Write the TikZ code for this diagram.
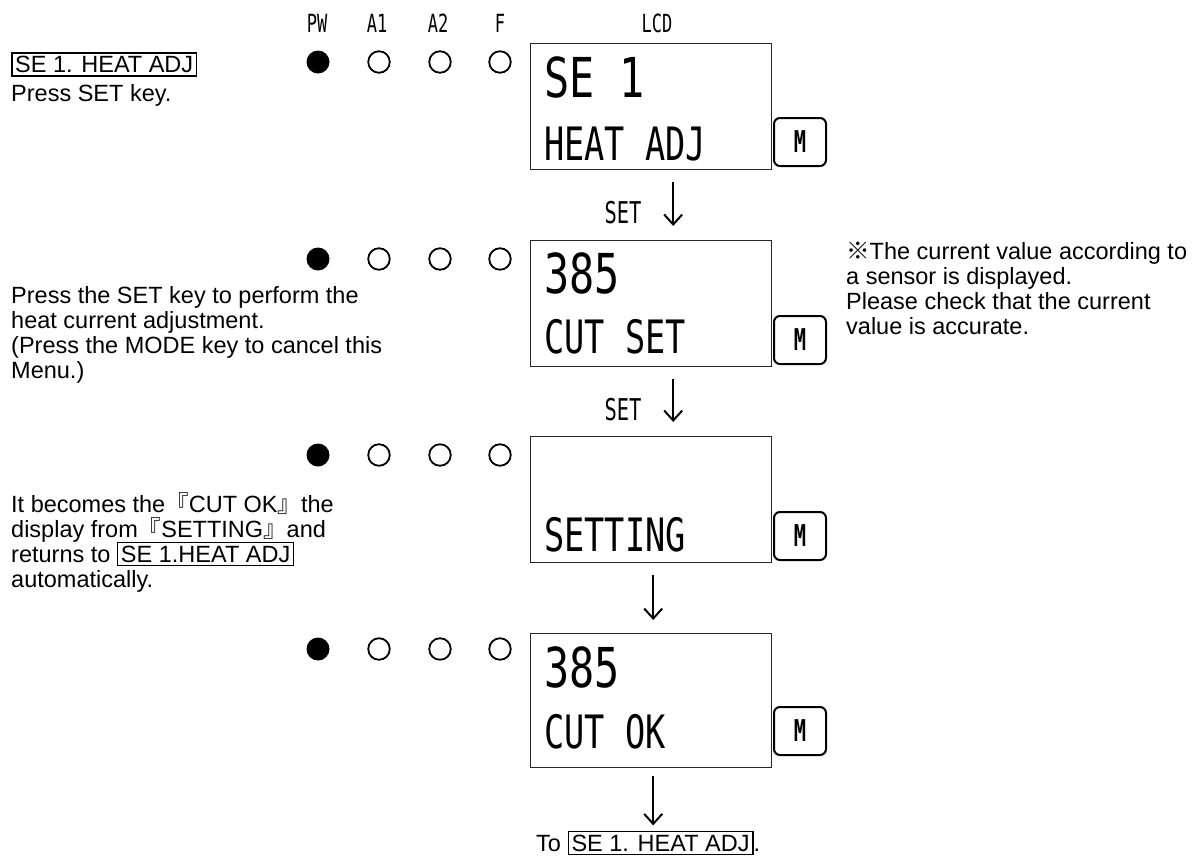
\documentclass[tikz,border=0pt]{standalone}
\usepackage{fontspec}
\setmainfont{Liberation Sans}
\newfontfamily\cjkfont{Noto Sans CJK JP}
\newfontfamily\lcdfont[FakeStretch=0.73]{DejaVu Sans Mono}
\newfontfamily\lcdbigfont[FakeStretch=0.76]{DejaVu Sans Mono}
\newfontfamily\lblfont[FakeStretch=0.68]{DejaVu Sans Mono}
\usetikzlibrary{arrows.meta,calc}
\setlength{\fboxsep}{2.5pt}
\setlength{\fboxrule}{1.5pt}
\begin{document}
\setlength{\lineskiplimit}{-100pt}
\begin{tikzpicture}[x=1pt,y=-1pt,
  body/.style={font=\fontsize{23.5}{25}\selectfont, align=left, inner sep=0pt, anchor=north west},
  oneline/.style={font=\fontsize{23.5}{25}\selectfont, inner sep=0pt, anchor=base west},
  hdr/.style={font=\lblfont\fontsize{25}{25}\selectfont, inner sep=0pt},
  setlbl/.style={font=\lblfont\fontsize{30}{30}\selectfont, inner sep=0pt},
  lcdbox/.style={draw=black!85, line width=1.4pt, anchor=north west, minimum width=241pt, inner sep=0pt},
  lcdbig/.style={font=\lcdbigfont\fontsize{55}{55}\selectfont, inner sep=0pt, anchor=base west},
  lcdsmall/.style={font=\lcdfont\fontsize{46}{46}\selectfont, inner sep=0pt, anchor=base west},
  mbtn/.style={draw, rounded corners=6pt, line width=2pt, minimum width=52pt, minimum height=48pt, inner sep=0pt, font=\lblfont\bfseries\fontsize{30}{30}\selectfont},
  ledon/.style={circle, fill=black, minimum size=23pt, inner sep=0pt},
  ledoff/.style={circle, draw=black, line width=1.8pt, minimum size=21.5pt, inner sep=0pt},
  arr/.style={line width=2pt, -{Straight Barb[length=10pt,width=18pt]}}
]
\useasboundingbox (0,0) rectangle (1197,860);
\fill[white] (0,0) rectangle (1197,860);

% headers
\node[hdr] (hpw) at (317,23) {PW};
\node[hdr] (ha1) at (377,23) {A1};
\node[hdr] (ha2) at (438,23) {A2};
\node[hdr] (hf)  at (500,23) {F};
\node[hdr] (hlcd) at (657,23) {LCD};

% LEDs
\foreach \r/\yy in {1/62,2/259,3/455,4/649} {
  \node[ledon]  (pw\r) at (318,\yy) {};
  \node[ledoff] (aa\r) at (379,\yy) {};
  \node[ledoff] (ab\r) at (440,\yy) {};
  \node[ledoff] (ff\r) at (500,\yy) {};
}

% LCD boxes
\node[lcdbox, minimum height=126pt] (lcd1) at (530,43) {};
\node[lcdbox, minimum height=126pt] (lcd2) at (530,240) {};
\node[lcdbox, minimum height=126pt] (lcd3) at (530,436) {};
\node[lcdbox, minimum height=134pt] (lcd4) at (530,633) {};

% LCD texts
\node[lcdbig]   (t1a) at (544,97)  {SE 1};
\node[lcdsmall] (t1b) at (544,160) {HEAT ADJ};
\node[lcdbig]   (t2a) at (544,293) {385};
\node[lcdsmall] (t2b) at (544,353) {CUT SET};
\node[lcdsmall] (t3b) at (544,551) {SETTING};
\node[lcdbig]   (t4a) at (544,687) {385};
\node[lcdsmall] (t4b) at (544,748) {CUT OK};

% M buttons
\node[mbtn] (m1) at (800,142) {M};
\node[mbtn] (m2) at (800,340) {M};
\node[mbtn] (m3) at (800,536) {M};
\node[mbtn] (m4) at (800,731) {M};

% SET labels
\node[setlbl] (s1) at (623,213) {SET};
\node[setlbl] (s2) at (623,410) {SET};

% left texts
\node[body] (b1) at (11,52) {\rule{0pt}{20pt}\fbox{SE 1. HEAT ADJ}\\[4pt]Press SET key.};
\node[body] (b2) at (11,283) {\rule{0pt}{20pt}Press the SET key to perform the\\heat current adjustment.\\(Press the MODE key to cancel this\\Menu.)};
\node[body] (b3) at (11,492) {\rule{0pt}{20pt}It becomes the{\cjkfont 『}CUT OK{\cjkfont 』}the\\display from{\cjkfont 『}SETTING{\cjkfont 』}and\\returns to \fbox{SE 1.HEAT ADJ}\\automatically.};
\node[body] (b4) at (846,239) {\rule{0pt}{20pt}{\cjkfont ※}The current value according to\\a sensor is displayed.\\Please check that the current\\value is accurate.};

% bottom
\node[oneline] (tonode) at (536,851) {To \fbox{SE 1. HEAT ADJ}.};

% arrows
\draw[arr] ([shift={(22,12)}]lcd1.south) -- ([shift={(22,-14)}]lcd2.north);
\draw[arr] ([shift={(22,12)}]lcd2.south) -- ([shift={(22,-14)}]lcd3.north);
\draw[arr] ([shift={(2,12)}]lcd3.south) -- ([shift={(2,-13)}]lcd4.north);
\coordinate (a4end) at ($(lcd4.south |- tonode.north)+(2,-5)$);
\draw[arr] ([shift={(2,8)}]lcd4.south) -- (a4end);
\end{tikzpicture}
\end{document}
